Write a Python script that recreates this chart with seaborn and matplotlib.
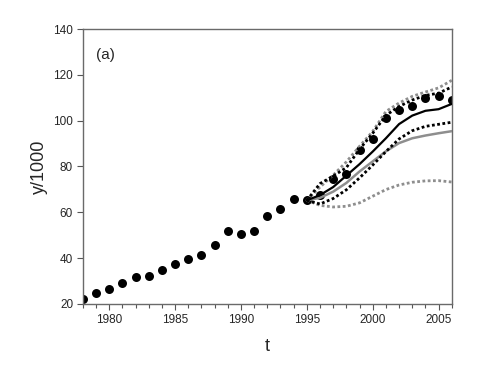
import matplotlib
matplotlib.use("Agg")
import matplotlib.pyplot as plt
import seaborn as sns
import numpy as np
import pandas as pd
from matplotlib.ticker import MultipleLocator

sns.set_style("white")
plt.rcParams["font.family"] = ["Liberation Sans", "DejaVu Sans"]

# observed series
obs_t = list(range(1978, 2007))
obs_y = [22.3, 24.8, 26.5, 29.0, 31.6, 32.2, 35.0, 37.2, 39.8, 41.2,
         45.6, 51.7, 50.3, 51.9, 58.4, 61.5, 65.8, 65.2, 67.4, 74.5,
         76.9, 87.1, 92.0, 101.2, 104.5, 106.4, 109.7, 110.6, 109.2]

# forecast curves from 1995
fc_t = list(range(1995, 2007))
black_mid = [65.2, 67.5, 71.0, 76.0, 81.0, 86.5, 92.3, 98.5, 102.2, 104.3, 105.0, 107.3]
black_up = [65.2, 72.5, 75.8, 79.5, 87.5, 94.5, 102.3, 106.2, 109.0, 111.0, 112.0, 114.7]
black_lo = [65.2, 63.6, 66.0, 69.8, 75.0, 80.6, 86.5, 92.0, 95.6, 97.5, 98.4, 99.3]
grey_mid = [65.2, 66.3, 69.0, 72.8, 77.8, 82.2, 86.6, 90.2, 92.3, 93.5, 94.5, 95.4]
grey_up = [65.2, 71.0, 76.2, 82.0, 88.8, 95.3, 104.0, 107.7, 110.6, 112.5, 114.3, 117.6]
grey_lo = [65.2, 63.0, 62.3, 62.6, 64.1, 67.0, 69.9, 71.9, 73.1, 73.7, 73.8, 73.2]

fig = plt.figure(figsize=(4.9, 3.77), dpi=100)
ax = fig.add_axes([0.169, 0.194, 0.753, 0.729])

obs = pd.DataFrame({"t": obs_t, "y": obs_y})
sns.scatterplot(data=obs, x="t", y="y", ax=ax, color="black", s=42,
                edgecolor="black", linewidth=0, zorder=2, clip_on=True)

grey = "#8e8e8e"
dot = (0, (1.0, 0.9))
curves = [
    (grey_mid, grey, "-", 1.8),
    (grey_up, grey, dot, 2.0),
    (grey_lo, grey, dot, 2.0),
    (black_mid, "black", "-", 1.6),
    (black_up, "black", dot, 2.0),
    (black_lo, "black", dot, 2.0),
]
for vals, col, ls, lw in curves:
    sns.lineplot(x=fc_t, y=vals, ax=ax, color=col, linestyle=ls,
                 linewidth=lw, zorder=3)

ax.set_xlim(1978, 2006)
ax.set_ylim(20, 140)
ax.xaxis.set_major_locator(MultipleLocator(5))
ax.xaxis.set_minor_locator(MultipleLocator(1))
ax.yaxis.set_major_locator(MultipleLocator(20))
ax.tick_params(axis="both", which="major", direction="out", length=4,
               width=0.8, color="#555555", labelsize=8.5, pad=3,
               bottom=True, left=True)
ax.tick_params(axis="x", which="minor", direction="out", length=3,
               width=0.8, color="#555555", bottom=True)
for sp in ax.spines.values():
    sp.set_color("#6a6a6a")
    sp.set_linewidth(1.0)

ax.set_xlabel("t", fontsize=13, labelpad=9)
ax.set_ylabel("y/1000", fontsize=13, labelpad=4)
ax.text(0.035, 0.93, "(a)", transform=ax.transAxes, fontsize=11,
        va="top", ha="left")

fig.savefig("out.png", dpi=100)
